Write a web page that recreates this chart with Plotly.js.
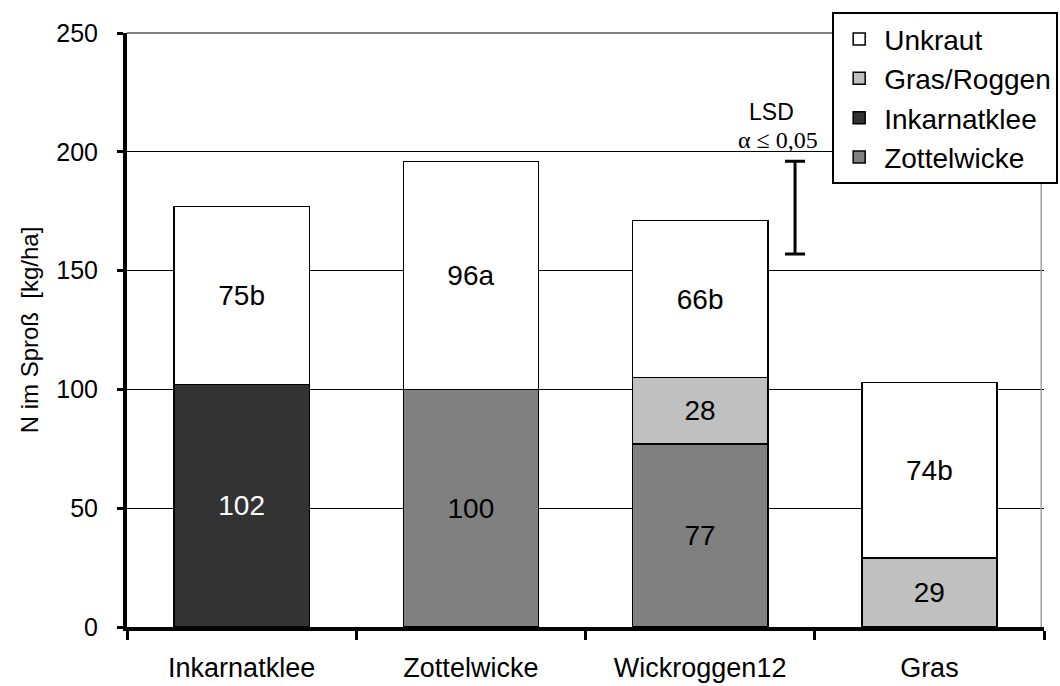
<!DOCTYPE html>
<html>
<head>
<meta charset="utf-8">
<script src="https://cdn.plot.ly/plotly-3.0.1.min.js"></script>
<style>html,body{margin:0;padding:0;background:#fff;}#chart{width:1060px;height:686px;}</style>
</head>
<body>
<div id="chart"></div>
<script>
const categories = ["Inkarnatklee", "Zottelwicke", "Wickroggen12", "Gras"];
const zottelwicke = [null, 100, 77, null];
const inkarnatklee = [102, null, null, null];
const grasRoggen = [null, null, 28, 29];
const unkraut = [75, 96, 66, 74];
const unkrautLabels = ["75b", "96a", "66b", "74b"];
const lsdLow = 157;
const lsdHigh = 196;
const yTicks = [0, 50, 100, 150, 200, 250];

const FONT = '"Liberation Sans", Arial, sans-serif';
const line = {color: '#000', width: 1.5};
const numLabel = arr => arr.map(v => v == null ? '' : String(v));

function barTrace(name, y, text, color, textColor) {
  return {
    type: 'bar', name: name, x: categories, y: y, text: text,
    textposition: 'inside', insidetextanchor: 'middle', textangle: 0,
    constraintext: 'none',
    textfont: {family: FONT, size: 28, color: textColor},
    marker: {color: color, line: line},
    hoverinfo: 'skip'
  };
}

const traces = [
  barTrace('Zottelwicke', zottelwicke, numLabel(zottelwicke), '#808080', '#000'),
  barTrace('Inkarnatklee', inkarnatklee, numLabel(inkarnatklee), '#333333', '#fff'),
  barTrace('Gras/Roggen', grasRoggen, numLabel(grasRoggen), '#c0c0c0', '#000'),
  barTrace('Unkraut', unkraut, unkrautLabels, '#ffffff', '#000'),
  {
    type: 'scatter', mode: 'markers', xaxis: 'x2', yaxis: 'y',
    x: [2.414], y: [(lsdLow + lsdHigh) / 2],
    marker: {size: 1, color: 'rgba(0,0,0,0)'},
    error_y: {type: 'data', array: [(lsdHigh - lsdLow) / 2], color: '#000', thickness: 3, width: 10},
    showlegend: false, hoverinfo: 'skip'
  }
];

const layout = {
  width: 1060, height: 686,
  margin: {l: 127, r: 16, t: 33, b: 59, autoexpand: false},
  paper_bgcolor: '#fff', plot_bgcolor: '#fff',
  font: {family: FONT, color: '#000'},
  barmode: 'stack', bargap: 0.41,
  showlegend: true,
  legend: {
    x: 0.769, y: 1.035, xanchor: 'left', yanchor: 'top',
    bgcolor: '#fff', bordercolor: '#000', borderwidth: 2,
    font: {family: FONT, size: 28, color: '#000'},
    traceorder: 'reversed', itemwidth: 40
  },
  xaxis: {
    type: 'category', range: [-0.5, 3.5], fixedrange: true,
    showline: true, linecolor: '#000', linewidth: 4,
    ticks: 'outside', tickson: 'boundaries', ticklen: 9, tickwidth: 3, tickcolor: '#000',
    tickfont: {family: FONT, size: 27, color: '#000'},
    ticklabelstandoff: 14,
    showgrid: false, zeroline: false
  },
  xaxis2: {overlaying: 'x', range: [-0.5, 3.5], visible: false, fixedrange: true},
  yaxis: {
    range: [0, 250], tickvals: yTicks, fixedrange: true,
    showline: true, linecolor: '#000', linewidth: 4,
    ticks: 'outside', ticklen: 6, tickwidth: 3, tickcolor: '#000',
    tickfont: {family: FONT, size: 25, color: '#000'},
    ticklabelstandoff: 14,
    showgrid: true, gridcolor: '#000', gridwidth: 1,
    zeroline: false,
    title: {text: 'N im Sproß&nbsp;&nbsp;[kg/ha]', font: {family: FONT, size: 24, color: '#000'}, standoff: 12}
  },
  shapes: [
    {type: 'line', xref: 'paper', yref: 'paper', x0: 0, x1: 0.997, y0: 1, y1: 1, line: {color: '#808080', width: 2}, layer: 'above'},
    {type: 'line', xref: 'paper', yref: 'paper', x0: 0.997, x1: 0.997, y0: 0, y1: 1, line: {color: '#a0a0a0', width: 1.5}, layer: 'above'}
  ],
  annotations: [
    {xref: 'x2', yref: 'paper', x: 2.31, y: (627 - 112) / 594, text: 'LSD', showarrow: false,
     font: {family: FONT, size: 23, color: '#000'}, xanchor: 'center', yanchor: 'middle'},
    {xref: 'x2', yref: 'paper', x: 2.34, y: (627 - 140) / 594, text: 'α ≤ 0,05', showarrow: false,
     font: {family: '"Liberation Serif", "Times New Roman", serif', size: 24, color: '#000'}, xanchor: 'center', yanchor: 'middle'}
  ]
};

Plotly.newPlot('chart', traces, layout, {staticPlot: true, displayModeBar: false});
</script>
</body>
</html>
